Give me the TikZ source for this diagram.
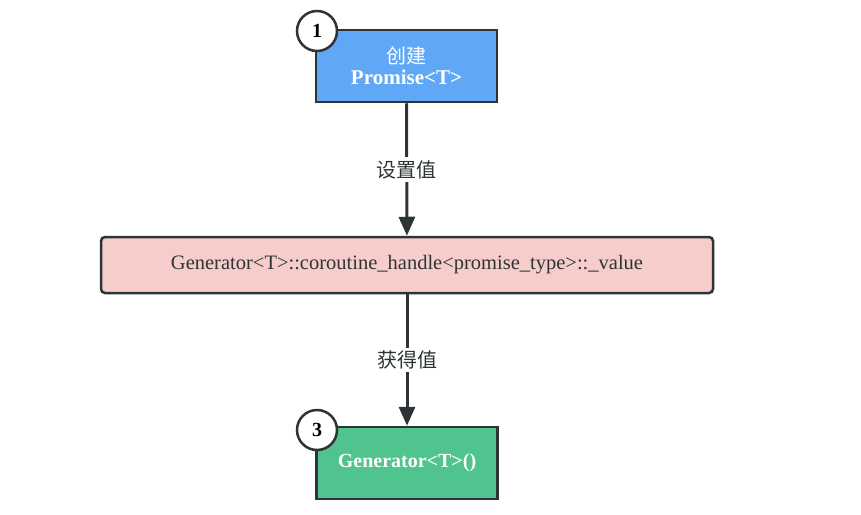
\documentclass[tikz,border=0pt]{standalone}
\usepackage{fontspec}
\setmainfont{Liberation Serif}
\newfontfamily\cjk{Noto Sans CJK SC}
\usetikzlibrary{arrows.meta, positioning, calc}

\definecolor{edgegray}{HTML}{2D3436}
\definecolor{promiseblue}{HTML}{60A8F6}
\definecolor{valuepink}{HTML}{F6CDCB}
\definecolor{gengreen}{HTML}{50C48E}

\begin{document}
\begin{tikzpicture}[
    x=1pt, y=-1pt,
    every node/.style={align=center, inner sep=0pt},
    stepbox/.style={draw=edgegray, line width=2.5pt, minimum width=181pt, minimum height=72pt},
    badge/.style={draw=edgegray, fill=white, line width=2.5pt, circle, minimum size=40pt, font=\fontsize{20}{22}\selectfont\bfseries},
    flow/.style={draw=edgegray, line width=3pt, -{Triangle[width=16pt, length=19pt]}},
    flowlabel/.style={fill=white, inner sep=3pt, text=edgegray, font=\cjk\fontsize{20}{22}\selectfont}
]
\useasboundingbox (0,0) rectangle (861,514);
\node (create) at (406.5, 66)  [stepbox, fill=promiseblue, text=white]
    {{\cjk\fontsize{20}{22}\selectfont 创建}\\[4pt]{\fontsize{21}{22}\selectfont\bfseries Promise<T>}};
\node (value)  at (407, 265)   [draw=edgegray, line width=2.5pt, rounded corners=4pt, fill=valuepink,
    minimum width=612pt, minimum height=56pt, text=edgegray, font=\fontsize{20.5}{22}\selectfont]
    {Generator<T>::coroutine\_handle<promise\_type>::\_value};
\node (gen)    at (407, 463)   [stepbox, fill=gengreen, text=white, font=\fontsize{20}{22}\selectfont\bfseries]
    {Generator<T>()};
\node (n1) at (317, 31)  [badge] {1};
\node (n3) at (317, 430) [badge] {3};

\draw[flow] (create) -- node[flowlabel] {设置值} (value);
\draw[flow] (value) -- node[flowlabel] {获得值} (gen);
\end{tikzpicture}
\end{document}
